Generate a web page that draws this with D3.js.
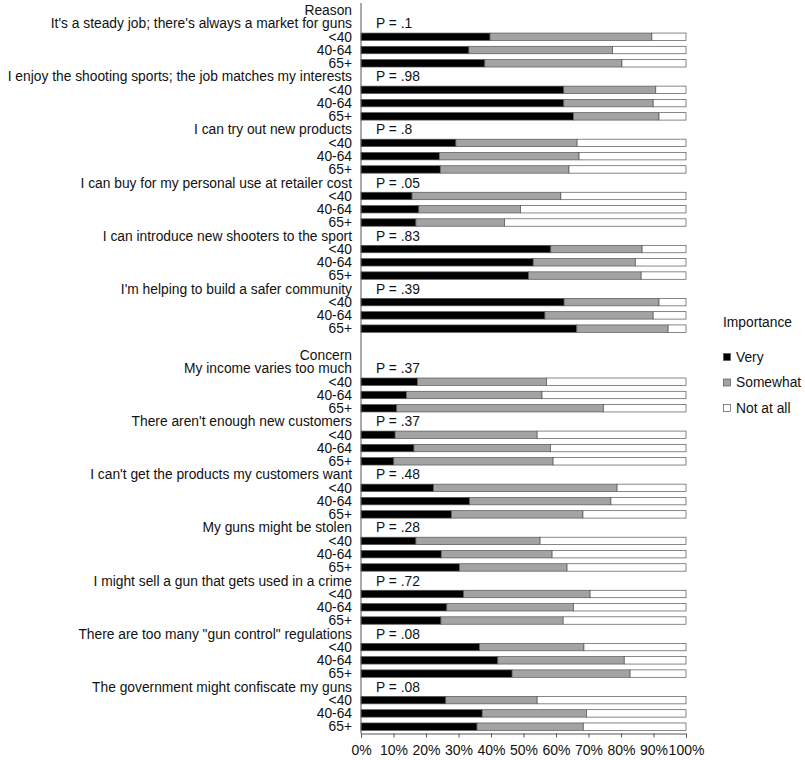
<!DOCTYPE html>
<meta charset="utf-8">
<html>
<head>
<title>Importance by age</title>
<script src="https://d3js.org/d3.v7.min.js"></script>
<style>
body { margin: 0; background: #fff; }
text { font-family: "Liberation Sans", Arial, sans-serif; font-size: 13.8px; fill: #111; }
</style>
</head>
<body>
<div id="chart"></div>
<script>
// groups, items and p-values
var groups = ["Reason", "Concern"];
var items = [
  "It's a steady job; there's always a market for guns",
  "I enjoy the shooting sports; the job matches my interests",
  "I can try out new products",
  "I can buy for my personal use at retailer cost",
  "I can introduce new shooters to the sport",
  "I'm helping to build a safer community",
  "My income varies too much",
  "There aren't enough new customers",
  "I can't get the products my customers want",
  "My guns might be stolen",
  "I might sell a gun that gets used in a crime",
  "There are too many \"gun control\" regulations",
  "The government might confiscate my guns"
];
var itemGroup = [0, 0, 0, 0, 0, 0, 1, 1, 1, 1, 1, 1, 1];
var pValues = ["P = .1", "P = .98", "P = .8", "P = .05", "P = .83", "P = .39",
  "P = .37", "P = .37", "P = .48", "P = .28", "P = .72", "P = .08", "P = .08"];
var ages = ["<40", "40-64", "65+"];

// percent "Very", per item, per age group
var very = [
  [39.7, 33.2, 38.1],
  [62.4, 62.4, 65.4],
  [29.2, 24.1, 24.4],
  [15.7, 17.8, 16.9],
  [58.4, 53.0, 51.6],
  [62.5, 56.6, 66.4],
  [17.4, 14.0, 11.0],
  [10.5, 16.3, 10.1],
  [22.3, 33.4, 27.8],
  [16.9, 24.7, 30.3],
  [31.6, 26.4, 24.6],
  [36.5, 42.1, 46.5],
  [26.1, 37.3, 35.7]
];
// percent "Somewhat"
var somewhat = [
  [49.8, 44.2, 42.2],
  [28.3, 27.5, 26.3],
  [37.3, 43.0, 39.6],
  [45.8, 31.3, 27.3],
  [28.1, 31.4, 34.6],
  [29.2, 33.3, 28.1],
  [39.7, 41.7, 63.6],
  [43.7, 42.0, 49.0],
  [56.5, 43.5, 40.5],
  [38.2, 34.1, 33.1],
  [38.9, 39.0, 37.6],
  [32.1, 38.9, 36.3],
  [28.1, 32.1, 32.7]
];
// percent "Not at all"
var notAtAll = [
  [10.5, 22.6, 19.7],
  [9.3, 10.1, 8.3],
  [33.5, 32.9, 36.0],
  [38.5, 50.9, 55.8],
  [13.5, 15.6, 13.8],
  [8.3, 10.1, 5.5],
  [42.9, 44.3, 25.4],
  [45.8, 41.7, 40.9],
  [21.2, 23.1, 31.7],
  [44.9, 41.2, 36.6],
  [29.5, 34.6, 37.8],
  [31.4, 19.0, 17.2],
  [45.8, 30.6, 31.6]
];
var levels = ["Very", "Somewhat", "Not at all"];
var levelColors = ["#000000", "#a3a3a3", "#ffffff"];
var ticks = [0, 10, 20, 30, 40, 50, 60, 70, 80, 90, 100];

// build list of rows
var rows = [];
var lastGroup = -1;
items.forEach(function (name, i) {
  if (itemGroup[i] !== lastGroup) {
    if (lastGroup !== -1) rows.push({ type: "blank" });
    rows.push({ type: "group", label: groups[itemGroup[i]] });
    lastGroup = itemGroup[i];
  }
  rows.push({ type: "item", label: name, p: pValues[i] });
  ages.forEach(function (a, j) {
    rows.push({ type: "bar", label: a, vals: [very[i][j], somewhat[i][j], notAtAll[i][j]] });
  });
});

var width = 805, height = 760;
var svg = d3.select("#chart").append("svg")
  .attr("width", width)
  .attr("height", height);

var x = d3.scaleLinear().domain([0, 100]).range([361, 686]);
var y = d3.scaleBand().domain(d3.range(rows.length)).range([3.6, 733.3]).padding(0);
var barH = y.bandwidth() * 0.56;
var color = d3.scaleOrdinal().domain(levels).range(levelColors);

// row labels
svg.selectAll(".rowlabel")
  .data(rows)
  .enter().append("text")
  .attr("class", "rowlabel")
  .attr("x", 352)
  .attr("y", function (d, i) { return y(i) + y.bandwidth() / 2; })
  .attr("dy", "0.35em")
  .attr("text-anchor", "end")
  .text(function (d) { return d.label || ""; });

// p labels
svg.selectAll(".plabel")
  .data(rows.map(function (d, i) { return { d: d, i: i }; }).filter(function (r) { return r.d.type === "item"; }))
  .enter().append("text")
  .attr("class", "plabel")
  .attr("x", 376)
  .attr("y", function (r) { return y(r.i) + y.bandwidth() / 2; })
  .attr("dy", "0.35em")
  .text(function (r) { return r.d.p; });

// stacked bars
rows.forEach(function (d, i) {
  if (d.type !== "bar") return;
  var acc = 0;
  d.vals.forEach(function (v, k) {
    svg.append("rect")
      .attr("x", x(acc))
      .attr("y", y(i) + (y.bandwidth() - barH) / 2)
      .attr("width", x(acc + v) - x(acc))
      .attr("height", barH)
      .attr("fill", color(levels[k]))
      .attr("stroke", "#555")
      .attr("stroke-width", 0.7);
    acc += v;
  });
});

// axes
svg.append("line")
  .attr("x1", x(0)).attr("x2", x(0))
  .attr("y1", 3).attr("y2", 733.5)
  .attr("stroke", "#555").attr("stroke-width", 1);

var xAxis = svg.append("g")
  .attr("transform", "translate(0,733.5)")
  .call(d3.axisBottom(x).tickValues(ticks).tickSize(4).tickPadding(8)
    .tickFormat(function (t) { return t + "%"; }));
xAxis.select(".domain").attr("stroke", "#555");
xAxis.selectAll(".tick line").attr("stroke", "#555");
xAxis.selectAll("text").style("font-size", "14px").attr("fill", "#111");

// legend
var legend = svg.append("g").attr("transform", "translate(723,0)");
legend.append("text")
  .attr("x", 0).attr("y", 322)
  .attr("dy", "0.35em")
  .text("Importance");
levels.forEach(function (l, k) {
  var ly = 357 + k * 25.5;
  legend.append("rect")
    .attr("x", 0.5).attr("y", ly - 3.5)
    .attr("width", 7).attr("height", 7)
    .attr("fill", color(l))
    .attr("stroke", "#555").attr("stroke-width", 0.7);
  legend.append("text")
    .attr("x", 13).attr("y", ly)
    .attr("dy", "0.35em")
    .text(l);
});
</script>
</body>
</html>
